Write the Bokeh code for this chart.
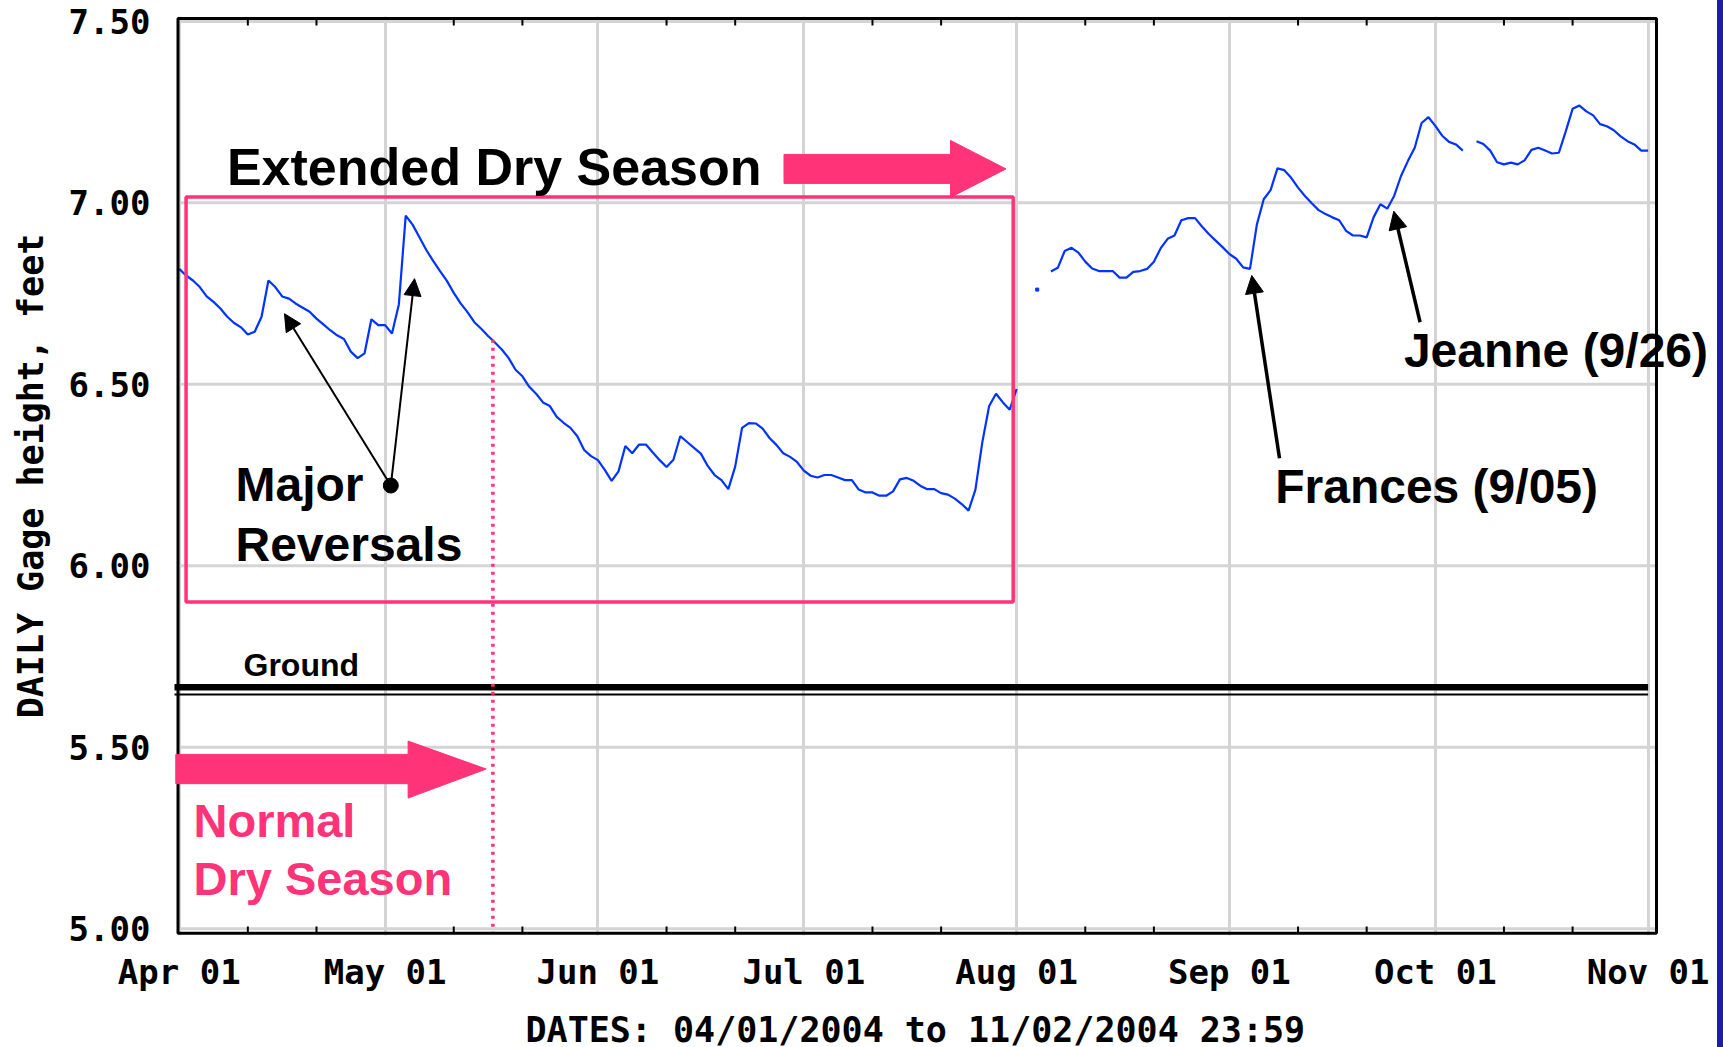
import numpy as np
import pandas as pd
from bokeh.plotting import figure
from bokeh.models import (Range1d, FixedTicker, DatetimeTickFormatter, Label, Title,
                          BoxAnnotation, PolyAnnotation, Arrow, NormalHead, ColumnDataSource,
                          PrintfTickFormatter, Div)
from bokeh.layouts import row
from bokeh.embed import file_html
from bokeh.resources import INLINE

# ---------------- data ----------------
START = "2004-04-01"
gage_height = [
    6.818, 6.800, 6.786, 6.768, 6.742, 6.727, 6.709, 6.686, 6.669, 6.657,
    6.637, 6.645, 6.686, 6.786, 6.768, 6.742, 6.736, 6.722, 6.711, 6.700,
    6.681, 6.665, 6.649, 6.635, 6.625, 6.590, 6.572, 6.585, 6.679, 6.663,
    6.663, 6.640, 6.720, 6.965, 6.940, 6.905, 6.870, 6.840, 6.812, 6.785,
    6.752, 6.723, 6.699, 6.671, 6.653, 6.633, 6.615, 6.596, 6.572, 6.540,
    6.522, 6.493, 6.474, 6.450, 6.440, 6.410, 6.394, 6.380, 6.357, 6.319,
    6.302, 6.291, 6.264, 6.234, 6.260, 6.330, 6.310, 6.334, 6.334, 6.312,
    6.291, 6.272, 6.292, 6.357, 6.341, 6.325, 6.309, 6.275, 6.250, 6.236,
    6.211, 6.273, 6.380, 6.393, 6.392, 6.378, 6.352, 6.333, 6.310, 6.300,
    6.286, 6.262, 6.248, 6.243, 6.250, 6.250, 6.243, 6.236, 6.236, 6.210,
    6.202, 6.202, 6.193, 6.193, 6.205, 6.238, 6.242, 6.234, 6.220, 6.211,
    6.211, 6.200, 6.196, 6.185, 6.170, 6.152, 6.210, 6.340, 6.440, 6.474,
    6.450, 6.430, 6.487, None, None, 6.761, None, 6.811, 6.821, 6.867,
    6.876, 6.863, 6.838, 6.819, 6.812, 6.812, 6.812, 6.794, 6.794, 6.810,
    6.812, 6.818, 6.838, 6.875, 6.901, 6.910, 6.952, 6.958, 6.958, 6.935,
    6.914, 6.896, 6.878, 6.859, 6.846, 6.822, 6.818, 6.940, 7.010, 7.035,
    7.095, 7.090, 7.069, 7.042, 7.019, 6.999, 6.980, 6.969, 6.960, 6.952,
    6.923, 6.910, 6.910, 6.905, 6.960, 6.996, 6.984, 7.019, 7.074, 7.115,
    7.152, 7.220, 7.236, 7.212, 7.185, 7.168, 7.161, 7.144, None, 7.170,
    7.162, 7.144, 7.112, 7.106, 7.111, 7.106, 7.117, 7.146, 7.152, 7.144,
    7.136, 7.138, 7.197, 7.259, 7.268, 7.252, 7.241, 7.217, 7.211, 7.200,
    7.183, 7.170, 7.161, 7.144, 7.144,
]
month_starts = ["2004-04-01", "2004-05-01", "2004-06-01", "2004-07-01",
                "2004-08-01", "2004-09-01", "2004-10-01", "2004-11-01"]
minor_tick_days = [11, 21]
y_ticks = [5.00, 5.50, 6.00, 6.50, 7.00, 7.50]
GROUND_FT = 5.665

# ---------------- placement (days after START, feet) ----------------
X_RANGE_DAYS = (-0.685, 224.11)
Y_RANGE_FT = (4.9811, 7.5135)
PLOT_BOX = dict(left=-0.175, right=215.22, top=7.508, bottom=4.987)
TICK_FT = 0.019
DRY_BOX = dict(left=1.0, right=121.5, top=7.016, bottom=5.90)
NORMAL_END_DAY = 45.7
NORMAL_LINE_TOP = 6.623
EXT_ARROW = dict(x0=88.11, x1=112.37, tip=120.45, shaft=(7.1335, 7.0536), head=(7.1721, 7.015))
NORM_ARROW = dict(x0=-0.5, x1=33.35, tip=44.73, shaft=(5.4802, 5.3995), head=(5.5168, 5.3597))
MAJOR_DOT = (30.83, 6.221)
MAJOR_TIPS = [(15.34, 6.6945), (34.28, 6.791)]
FRANCES_ARROW = ((160.3, 6.296), (156.26, 6.800))
JEANNE_ARROW = ((180.78, 6.671), (176.95, 6.977))
# (text, left edge in days, vertical middle in feet, size, colour)
TEXTS = [
    ("Extended Dry Season", 6.95, 7.0992, "52px", "black"),
    ("Major", 8.20, 6.2233, "48px", "black"),
    ("Reversals", 8.20, 6.0597, "48px", "black"),
    ("Normal", 2.08, 5.2975, "47px", "#ff3377"),
    ("Dry Season", 2.08, 5.1371, "47px", "#ff3377"),
    ("Ground", 9.37, 5.7259, "32px", "black"),
    ("Frances (9/05)", 159.67, 6.2183, "48px", "black"),
    ("Jeanne (9/26)", 178.42, 6.592, "48px", "black"),
]

PINK = "#ff3377"
BLUE = "#0033ff"
GRID = "#d4d4d4"
SLIDE_BLUE = "#1d1da8"
MONO = "DejaVu Sans Mono"
SANS = "Liberation Sans"


def ms(ts):
    return pd.Timestamp(ts).value / 1e6


def at(d):
    return (pd.Timestamp(START) + pd.Timedelta(days=d)).value / 1e6


y = np.array(gage_height, dtype=float)
dates = pd.date_range(START, periods=len(y), freq="D")
valid = ~np.isnan(y)
prev_ok = np.r_[False, valid[:-1]]
next_ok = np.r_[valid[1:], False]
isolated = valid & ~prev_ok & ~next_ok

major_ticks = [ms(m) for m in month_starts]
minor_ticks = [ms(pd.Timestamp(m) + pd.Timedelta(days=k - 1))
               for m in month_starts[:-1] for k in minor_tick_days]
xticker = FixedTicker(ticks=major_ticks, minor_ticks=minor_ticks)

p = figure(frame_width=1543, frame_height=919, x_axis_type="datetime",
           x_range=Range1d(at(X_RANGE_DAYS[0]), at(X_RANGE_DAYS[1])),
           y_range=Range1d(*Y_RANGE_FT),
           output_backend="svg", toolbar_location=None, title=None,
           min_border_left=174, min_border_right=0, min_border_top=16, min_border_bottom=0,
           background_fill_color="white", border_fill_color="white",
           outline_line_color=None, margin=(0, 0, 0, 0))

# vertical grid (month starts)
p.xgrid.ticker = xticker
p.xgrid.grid_line_color = GRID
p.xgrid.grid_line_width = 3
p.ygrid.grid_line_color = None

# horizontal grid lines, limited to the plot box
p.segment(x0=[at(PLOT_BOX["left"])] * len(y_ticks), y0=y_ticks,
          x1=[at(PLOT_BOX["right"])] * len(y_ticks), y1=y_ticks,
          line_color=GRID, line_width=3)

# bottom axis
xa = p.xaxis[0]
xa.ticker = xticker
fmt = "%b %d"
xa.formatter = DatetimeTickFormatter(milliseconds=fmt, seconds=fmt, minsec=fmt, minutes=fmt,
                                     hourmin=fmt, hours=fmt, days=fmt, months=fmt, years=fmt)
xa.axis_line_color = None
xa.major_tick_line_color = None
xa.minor_tick_line_color = None
xa.major_label_text_font = MONO
xa.major_label_text_font_style = "bold"
xa.major_label_text_font_size = "34px"
xa.major_label_text_color = "black"
xa.major_label_standoff = 10

p.add_layout(Title(text="DATES: 04/01/2004 to 11/02/2004 23:59", align="left", offset=351,
                   standoff=27, text_font=MONO, text_font_style="bold",
                   text_font_size="35px", text_color="black"), "below")

# left axis
ya = p.yaxis[0]
ya.ticker = FixedTicker(ticks=y_ticks)
ya.formatter = PrintfTickFormatter(format="%.2f")
ya.axis_line_color = None
ya.major_tick_line_color = None
ya.minor_tick_line_color = None
ya.major_label_text_font = MONO
ya.major_label_text_font_style = "bold"
ya.major_label_text_font_size = "34px"
ya.major_label_text_color = "black"
ya.major_label_standoff = 18
ya.axis_label = "DAILY Gage height, feet"
ya.axis_label_text_font = MONO
ya.axis_label_text_font_style = "bold"
ya.axis_label_text_font_size = "35px"
ya.axis_label_text_color = "black"
ya.axis_label_standoff = 15

# inward ticks on the 11th and 21st, bottom and top
n = len(minor_ticks)
p.segment(x0=minor_ticks, y0=[PLOT_BOX["bottom"]] * n, x1=minor_ticks,
          y1=[PLOT_BOX["bottom"] + TICK_FT] * n, line_color="black", line_width=2)
p.segment(x0=minor_ticks, y0=[PLOT_BOX["top"]] * n, x1=minor_ticks,
          y1=[PLOT_BOX["top"] - TICK_FT] * n, line_color="black", line_width=2)

# ground lines
p.segment(x0=[at(-2)], y0=[GROUND_FT], x1=[ms(month_starts[-1])], y1=[GROUND_FT],
          line_color="black", line_width=6.5)
p.segment(x0=[at(-2)], y0=[GROUND_FT - 0.02], x1=[ms(month_starts[-1])], y1=[GROUND_FT - 0.02],
          line_color="black", line_width=2)

# data line
src = ColumnDataSource(dict(x=dates, y=y))
p.line("x", "y", source=src, line_color=BLUE, line_width=2.2)
p.scatter(x=dates[isolated], y=y[isolated], marker="square", size=3,
          fill_color=BLUE, line_color=BLUE)

# end of the normal dry season (dotted)
p.segment(x0=[at(NORMAL_END_DAY)], y0=[NORMAL_LINE_TOP], x1=[at(NORMAL_END_DAY)],
          y1=[PLOT_BOX["bottom"]], line_color=PINK, line_width=3.5, line_dash="3 5")

# plot frame
p.add_layout(BoxAnnotation(left=at(PLOT_BOX["left"]), right=at(PLOT_BOX["right"]),
                           top=PLOT_BOX["top"], bottom=PLOT_BOX["bottom"],
                           fill_alpha=0.0, fill_color=None,
                           line_color="black", line_width=3, line_alpha=1.0))

# dry-season box
p.add_layout(BoxAnnotation(left=at(DRY_BOX["left"]), right=at(DRY_BOX["right"]),
                           top=DRY_BOX["top"], bottom=DRY_BOX["bottom"],
                           fill_alpha=0.0, fill_color=None,
                           line_color=PINK, line_width=3.5, line_alpha=1.0))


def arrow_poly(a):
    st, sb = a["shaft"]
    ht, hb = a["head"]
    mid = (st + sb) / 2
    xs = [at(a["x0"]), at(a["x1"]), at(a["x1"]), at(a["tip"]), at(a["x1"]), at(a["x1"]), at(a["x0"])]
    ys = [st, st, ht, mid, hb, sb, sb]
    return PolyAnnotation(xs=xs, ys=ys, fill_color=PINK, fill_alpha=1.0, line_color=PINK,
                          line_alpha=1.0, line_width=1)


p.add_layout(arrow_poly(EXT_ARROW))
p.add_layout(arrow_poly(NORM_ARROW))

# black arrows
for tx, ty in MAJOR_TIPS:
    p.add_layout(Arrow(x_start=at(MAJOR_DOT[0]), y_start=MAJOR_DOT[1], x_end=at(tx), y_end=ty,
                       line_color="black", line_width=2,
                       end=NormalHead(size=17, fill_color="black", line_color="black", line_width=1)))
p.scatter(x=[at(MAJOR_DOT[0])], y=[MAJOR_DOT[1]], marker="circle", size=15,
          fill_color="black", line_color="black")
for (sx, sy), (ex, ey) in (FRANCES_ARROW, JEANNE_ARROW):
    p.add_layout(Arrow(x_start=at(sx), y_start=sy, x_end=at(ex), y_end=ey,
                       line_color="black", line_width=3.5,
                       end=NormalHead(size=18, fill_color="black", line_color="black", line_width=1)))

# text labels
for txt, dx, fy, size, color in TEXTS:
    p.add_layout(Label(x=at(dx), y=fy, text=txt, text_font=SANS, text_font_style="bold",
                       text_font_size=size, text_color=color, text_baseline="middle",
                       text_align="left"))

strip = Div(text="", width=6, height=1047, margin=(0, 0, 0, 0),
            styles={"background-color": SLIDE_BLUE})
layout = row(p, strip, spacing=0)

open("out.html", "w").write(file_html(layout, INLINE))
